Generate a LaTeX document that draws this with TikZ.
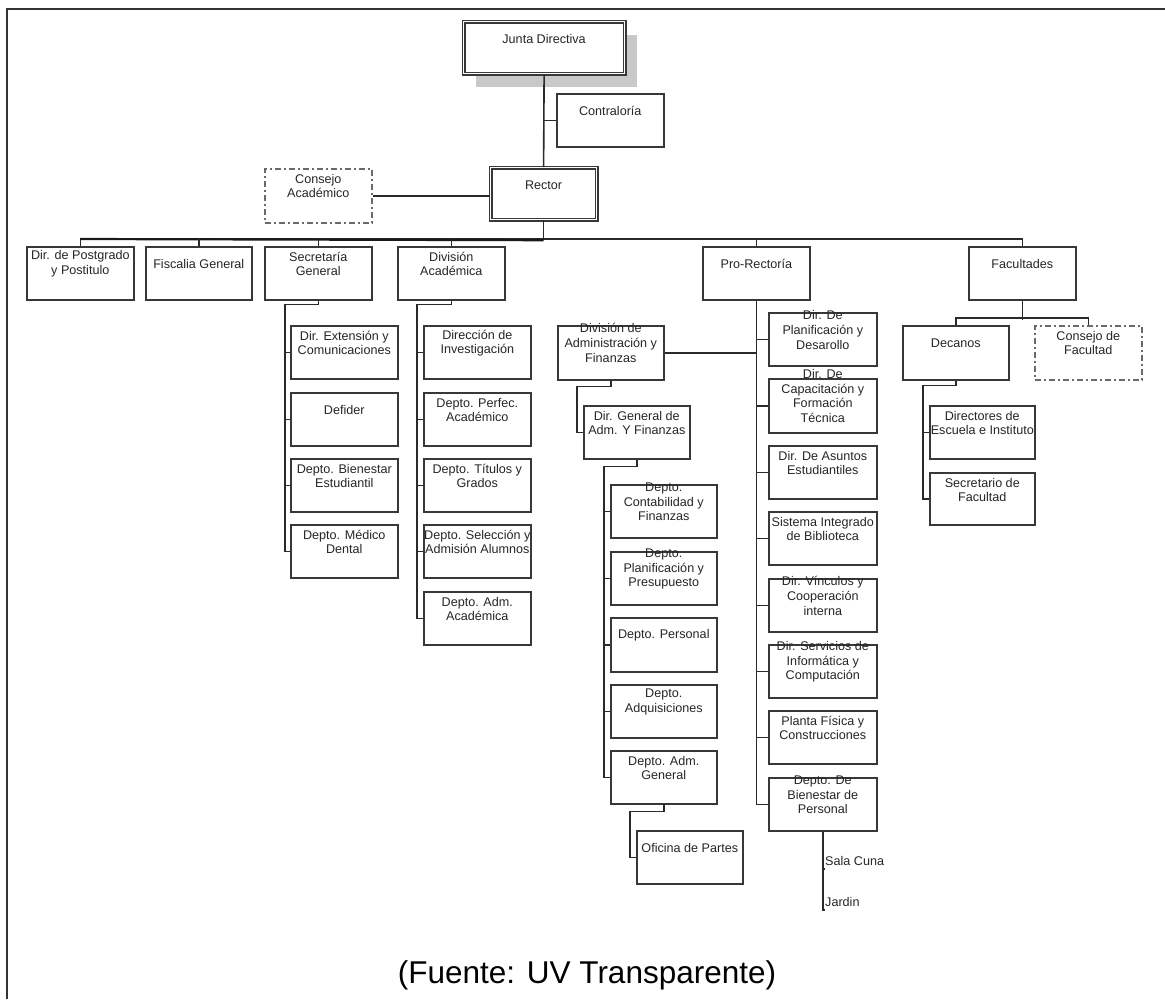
\documentclass[tikz,border=0pt]{standalone}
\usepackage{fontspec}
\setmainfont{Liberation Sans}
\usetikzlibrary{calc}
\definecolor{edge}{HTML}{383838}
\definecolor{wirec}{HTML}{2A2A2A}
\definecolor{ink}{HTML}{262626}
\definecolor{shade}{HTML}{C8C8C8}

\tikzset{
  box/.style={draw=edge, line width=1.6pt, fill=white, inner sep=0pt, anchor=north west},
  mainbox/.style={box, double=white, double distance=1.4pt, line width=1.2pt},
  shadowed/.style={preaction={fill=shade, transform canvas={shift={(12pt,-13pt)}}}},
  dashbox/.style={box, draw=edge!75, dash pattern=on 6pt off 3pt on 2pt off 3pt},
  lbl/.style={font=\fontsize{12.6}{14.6}\selectfont, text=ink, align=center, inner sep=0pt},
  wire/.style={draw=wirec, line width=1.6pt},
  frame/.style={draw=black!80, line width=2pt},
}
% #1 style, #2 name, #3 left, #4 top, #5 width, #6 height, #7 text
\newcommand\orgbox[7][box]{%
  \node[#1, minimum width=#5pt, minimum height=#6pt] (#2) at (#3,#4) {};
  \node[lbl] (#2-t) at ($(#2.north)+(0,18)$) {#7};}

\begin{document}
\begin{tikzpicture}[x=1pt, y=-1pt]
\useasboundingbox (0,0) rectangle (1165,999);
\draw[frame] (7,999) -- (7,9) -- (1165,9);

% top levels
\orgbox[mainbox,shadowed]{junta}{463}{21}{161}{52}{Junta Directiva}
\orgbox{contra}{556}{93}{107}{53}{Contraloría}
\orgbox[mainbox]{rector}{490}{167}{106}{52}{Rector}
\orgbox[dashbox]{cacad}{264}{168}{107}{54}{Consejo\\Académico}

% first row under the rector
\orgbox{post}{26}{246}{107}{53}{Dir. de Postgrado\\y Postitulo}
\orgbox{fisc}{145}{246}{106}{53}{Fiscalia General}
\orgbox{secg}{264}{246}{107}{53}{Secretaría\\General}
\orgbox{diva}{397}{246}{107}{53}{División\\Académica}
\orgbox{pro}{702}{246}{107}{53}{Pro-Rectoría}
\orgbox{fac}{968}{246}{107}{53}{Facultades}

% Secretaría General
\orgbox{ext}{290}{325}{107}{53}{Dir. Extensión y\\Comunicaciones}
\orgbox{defi}{290}{392}{107}{53}{Defider}
\orgbox{bien}{290}{458}{107}{53}{Depto. Bienestar\\Estudiantil}
\orgbox{med}{290}{524}{107}{53}{Depto. Médico\\Dental}

% División Académica
\orgbox{inv}{423}{325}{107}{53}{Dirección de\\Investigación}
\orgbox{perf}{423}{392}{107}{53}{Depto. Perfec.\\Académico}
\orgbox{tit}{423}{458}{107}{53}{Depto. Títulos y\\Grados}
\orgbox{sel}{423}{524}{107}{53}{Depto. Selección y\\Admisión Alumnos}
\orgbox{admac}{423}{591}{107}{53}{Depto. Adm.\\Académica}

% Administración y Finanzas
\orgbox{divadm}{557}{325}{106}{54}{División de\\Administración y\\Finanzas}
\orgbox{dirgen}{583}{405}{106}{53}{Dir. General de\\Adm. Y Finanzas}
\orgbox{cont}{610}{484}{106}{53}{Depto.\\Contabilidad y\\Finanzas}
\orgbox{pres}{610}{551}{106}{53}{Depto.\\Planificación y\\Presupuesto}
\orgbox{pers}{610}{617}{106}{54}{Depto. Personal}
\orgbox{adq}{610}{684}{106}{53}{Depto.\\Adquisiciones}
\orgbox{admg}{610}{750}{106}{53}{Depto. Adm.\\General}
\orgbox{ofi}{636}{830}{106}{53}{Oficina de Partes}

% Pro-Rectoría
\orgbox{plan}{768}{312}{108}{53}{Dir. De\\Planificación y\\Desarollo}
\orgbox{cap}{768}{378}{108}{54}{Dir. De\\Capacitación y\\Formación\\Técnica}
\orgbox{asun}{768}{445}{108}{53}{Dir. De Asuntos\\Estudiantiles}
\orgbox{sib}{768}{511}{108}{53}{Sistema Integrado\\de Biblioteca}
\orgbox{vinc}{768}{578}{108}{53}{Dir. Vínculos y\\Cooperación\\interna}
\orgbox{serv}{768}{644}{108}{53}{Dir. Servicios de\\Informática y\\Computación}
\orgbox{plf}{768}{710}{108}{53}{Planta Física y\\Construcciones}
\orgbox{bienp}{768}{777}{108}{53}{Depto. De\\Bienestar de\\Personal}
\node[lbl, anchor=west] (sala) at (825,861) {Sala Cuna};
\node[lbl, anchor=west] (jardin) at (825,902) {Jardin};

% Facultades
\orgbox{decanos}{902}{325}{106}{54}{Decanos}
\orgbox[dashbox]{cfac}{1034}{325}{107}{54}{Consejo de\\Facultad}
\orgbox{diresc}{929}{405}{105}{53}{Directores de\\Escuela e Instituto}
\orgbox{secfac}{929}{472}{105}{52}{Secretario de\\Facultad}

% connectors
\draw[wire] (junta.south) -- (rector.north);
\draw[wire] (contra.west) -- (contra.west -| junta.south);
\draw[wire] (cacad.east) -- (cacad.east -| rector.west);
\draw[wire] (rector.south) -- ++(0,20);
\draw[wire] (post.north) -- ++(0,-7) -| (fac.north);
\draw[wire, line width=2.2pt, draw=black!90] ($(post.north)+(0,-7)$) -- ($(rector.south)+(0,20)$);
\foreach \n in {fisc,secg,diva,pro} \draw[wire] (\n.north) -- ++(0,-7);

\draw[wire] (secg.south) -- ++(0,4) -| ($(med.west)+(-5,0)$) -- (med.west);
\foreach \n in {ext,defi,bien} \draw[wire] (\n.west) -- ++(-5,0);

\draw[wire] (diva.south) -- ++(0,4) -| ($(admac.west)+(-6,0)$) -- (admac.west);
\foreach \n in {inv,perf,tit,sel} \draw[wire] (\n.west) -- ++(-6,0);

\draw[wire] (pro.south) -- (pro.south |- bienp.west) -- (bienp.west);
\foreach \n in {plan,cap,asun,sib,vinc,serv,plf} \draw[wire] (\n.west) -- (\n.west -| pro.south);
\draw[wire] (divadm.east) -- (divadm.east -| pro.south);

\draw[wire] (divadm.south) -- ++(0,6) -| ($(dirgen.west)+(-6,0)$) -- (dirgen.west);
\draw[wire] (dirgen.south) -- ++(0,7) -| ($(admg.west)+(-6,0)$) -- (admg.west);
\foreach \n in {cont,pres,pers,adq} \draw[wire] (\n.west) -- ++(-6,0);
\draw[wire] (admg.south) -- ++(0,7) -| ($(ofi.west)+(-6,0)$) -- (ofi.west);

\draw[wire] (bienp.south) |- ($(jardin.south west)+(0,3)$);
\draw[wire] ($(bienp.south |- sala.south)+(0,3)$) -- ($(sala.south west)+(0,3)$);

\draw[wire] (fac.south) -- ++(0,19);
\draw[wire] (decanos.north) -- ++(0,-7) -| (cfac.north);
\draw[wire] (decanos.south) -- ++(0,5) -| ($(secfac.west)+(-6,0)$) -- (secfac.west);
\draw[wire] (diresc.west) -- ++(-6,0);

\node[font=\fontsize{31.5}{36}\selectfont, text=black, inner sep=0pt] (src) at (587,975) {(Fuente: UV Transparente)};
\end{tikzpicture}
\end{document}
